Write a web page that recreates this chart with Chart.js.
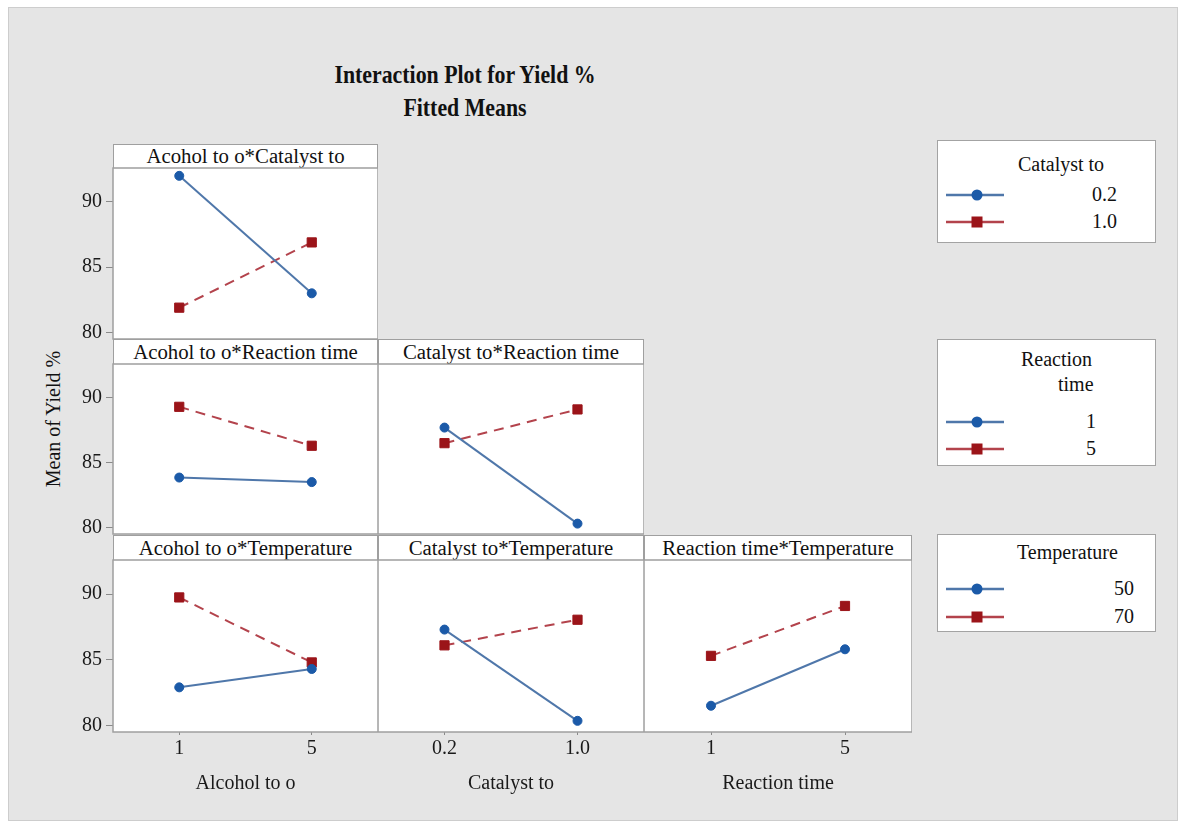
<!DOCTYPE html>
<html>
<head>
<meta charset="utf-8">
<title>Interaction Plot for Yield %</title>
<script src="https://cdn.jsdelivr.net/npm/chart.js@4.4.0/dist/chart.umd.min.js"></script>
<style>
  html, body { margin: 0; padding: 0; }
  body {
    width: 1183px; height: 826px; position: relative; overflow: hidden;
    background: #ffffff;
    font-family: 'Liberation Serif', 'Times New Roman', serif; color: #111;
  }
  #frame {
    position: absolute; left: 8px; top: 7px; width: 1170px; height: 814px;
    background: #e5e5e5; border: 1px solid #cdcdcd; box-sizing: border-box;
  }
  .title {
    position: absolute; left: 215px; width: 500px; text-align: center;
    font-weight: bold; font-size: 26px; line-height: 32px; white-space: nowrap;
    transform: scaleX(0.84);
  }
  .strip {
    position: absolute; background: #fff; border: 1.5px solid #9f9f9f;
    box-sizing: border-box; text-align: center; font-size: 20.8px; white-space: nowrap;
  }
  .ytitle {
    position: absolute; left: 53px; top: 419px; font-size: 20px; white-space: nowrap;
    transform: translate(-50%, -50%) rotate(-90deg);
  }
  .legend {
    position: absolute; left: 937px; width: 219px; background: #fff;
    border: 1.5px solid #a3a3a3; box-sizing: border-box;
  }
  .ltext { position: absolute; font-size: 20px; white-space: nowrap; line-height: 24px; }
  canvas { position: absolute; }
</style>
</head>
<body>
<div id="frame"></div>
<div class="title" style="top:59px">Interaction Plot for Yield %</div>
<div class="title" style="top:92px">Fitted Means</div>
<div class="ytitle">Mean of Yield %</div>
<div id="stage"></div>
<script>
// Factor levels
const alcoholLevels = ['1', '5'];
const catalystLevels = ['0.2', '1.0'];
const reactionLevels = ['1', '5'];
const temperatureLevels = ['50', '70'];

// Fitted means of Yield % (first factor on the x axis, second factor as the trace)
const alcCatalyst02 = [92.0, 83.0];
const alcCatalyst10 = [81.9, 86.9];
const alcTime1 = [83.85, 83.5];
const alcTime5 = [89.3, 86.3];
const catTime1 = [87.7, 80.3];
const catTime5 = [86.5, 89.1];
const alcTemp50 = [82.9, 84.3];
const alcTemp70 = [89.75, 84.8];
const catTemp50 = [87.3, 80.35];
const catTemp70 = [86.1, 88.05];
const timeTemp50 = [81.5, 85.8];
const timeTemp70 = [85.3, 89.1];

// Shared y axis
const yTicks = [80, 85, 90];
const yMin = 79.5;
const yMax = 92.6;

// Trace styles
const lowStyle = { line: '#4f77aa', marker: '#1b5aa8', shape: 'circle', radius: 4.5, dash: [] };
const highStyle = { line: '#b3434c', marker: '#9b1419', shape: 'rect', radius: 6.5, dash: [10, 7] };

// Panel grid geometry (pixels)
const cols = [[113, 378], [378, 644], [644, 912]];
const rows = [
  { head: 144, top: 168, bottom: 339 },
  { head: 339, top: 364, bottom: 534 },
  { head: 535, top: 560, bottom: 732 }
];
const xTitles = ['Alcohol to o', 'Catalyst to', 'Reaction time'];
const xLevelsByCol = [alcoholLevels, catalystLevels, reactionLevels];

const panels = [
  { row: 0, col: 0, title: 'Acohol to o*Catalyst to', low: alcCatalyst02, high: alcCatalyst10, names: catalystLevels },
  { row: 1, col: 0, title: 'Acohol to o*Reaction time', low: alcTime1, high: alcTime5, names: reactionLevels },
  { row: 1, col: 1, title: 'Catalyst to*Reaction time', low: catTime1, high: catTime5, names: reactionLevels },
  { row: 2, col: 0, title: 'Acohol to o*Temperature', low: alcTemp50, high: alcTemp70, names: temperatureLevels },
  { row: 2, col: 1, title: 'Catalyst to*Temperature', low: catTemp50, high: catTemp70, names: temperatureLevels },
  { row: 2, col: 2, title: 'Reaction time*Temperature', low: timeTemp50, high: timeTemp70, names: temperatureLevels }
];

Chart.defaults.font.family = "'Liberation Serif', 'Times New Roman', serif";
Chart.defaults.color = '#1a1a1a';

// White plot background and grey frame around every panel
const panelFrame = {
  id: 'panelFrame',
  beforeDatasetsDraw(chart) {
    const { ctx, chartArea: a } = chart;
    ctx.save();
    ctx.fillStyle = '#ffffff';
    ctx.fillRect(a.left, a.top, a.right - a.left, a.bottom - a.top);
    ctx.restore();
  },
  afterDraw(chart) {
    const { ctx, chartArea: a } = chart;
    ctx.save();
    ctx.strokeStyle = '#9f9f9f';
    ctx.lineWidth = 1.5;
    ctx.strokeRect(a.left, a.top, a.right - a.left, a.bottom - a.top);
    ctx.restore();
  }
};

const stage = document.getElementById('stage');
const PAD = 18;

function traceDataset(label, data, st) {
  return {
    label, data,
    borderColor: st.line, borderWidth: 2, borderDash: st.dash,
    pointStyle: st.shape, pointRadius: st.radius, pointHoverRadius: st.radius,
    pointBackgroundColor: st.marker, pointBorderColor: st.marker, pointBorderWidth: 1,
    tension: 0, fill: false, clip: false
  };
}

panels.forEach(p => {
  const [cl, cr] = cols[p.col];
  const r = rows[p.row];
  const hasY = p.col === 0;
  const hasX = p.row === 2;

  // header strip
  const strip = document.createElement('div');
  strip.className = 'strip';
  strip.style.left = cl + 'px';
  strip.style.top = r.head + 'px';
  strip.style.width = (cr - cl) + 'px';
  strip.style.height = (r.top - r.head + 1) + 'px';
  strip.style.lineHeight = (r.top - r.head - 2) + 'px';
  strip.textContent = p.title;
  stage.appendChild(strip);

  const left = hasY ? 20 : cl;
  const top = r.top - PAD;
  const padBottom = hasX ? 0 : PAD;
  const bottom = hasX ? 800 : r.bottom + padBottom;

  const canvas = document.createElement('canvas');
  canvas.width = cr - left;
  canvas.height = bottom - top;
  canvas.style.left = left + 'px';
  canvas.style.top = top + 'px';
  stage.appendChild(canvas);

  new Chart(canvas, {
    type: 'line',
    data: {
      labels: xLevelsByCol[p.col],
      datasets: [
        traceDataset(p.names[0], p.low, lowStyle),
        traceDataset(p.names[1], p.high, highStyle)
      ]
    },
    options: {
      responsive: false, animation: false, devicePixelRatio: 1,
      layout: { autoPadding: false, padding: { top: PAD, bottom: padBottom, left: 0, right: 0 } },
      plugins: { legend: { display: false }, tooltip: { enabled: false } },
      scales: {
        x: {
          type: 'category', offset: true, display: hasX,
          grid: { display: true, drawOnChartArea: false, drawTicks: true, tickLength: 3, color: '#8a8a8a' },
          border: { display: false },
          ticks: { font: { size: 20 }, color: '#1a1a1a', padding: 2, maxRotation: 0 },
          title: { display: true, text: xTitles[p.col], font: { size: 20 }, color: '#1a1a1a', padding: { top: 0, bottom: 4 } },
          afterFit(s) { if (hasX) s.height = bottom - r.bottom; }
        },
        y: {
          type: 'linear', min: yMin, max: yMax, display: hasY,
          afterBuildTicks(s) { s.ticks = yTicks.map(v => ({ value: v })); },
          grid: { display: true, drawOnChartArea: false, drawTicks: true, tickLength: 7, color: '#8a8a8a' },
          border: { display: false },
          ticks: { font: { size: 20 }, color: '#1a1a1a', padding: 4 },
          afterFit(s) { if (hasY) s.width = cl - left; }
        }
      }
    },
    plugins: [panelFrame]
  });
});

// Legends, one per trace factor
const legends = [
  { title: [['Catalyst to', 1018, 152]], levels: catalystLevels, top: 140, bottom: 243, itemY: [195, 222], labelRight: 1117 },
  { title: [['Reaction', 1021, 347], ['time', 1058, 372]], levels: reactionLevels, top: 339, bottom: 466, itemY: [422, 449], labelRight: 1096 },
  { title: [['Temperature', 1017, 540]], levels: temperatureLevels, top: 534, bottom: 632, itemY: [589, 617], labelRight: 1134 }
];

legends.forEach(lg => {
  const box = document.createElement('div');
  box.className = 'legend';
  box.style.top = lg.top + 'px';
  box.style.height = (lg.bottom - lg.top) + 'px';
  stage.appendChild(box);

  lg.title.forEach(([txt, x, y]) => {
    const t = document.createElement('div');
    t.className = 'ltext';
    t.style.left = x + 'px';
    t.style.top = y + 'px';
    t.textContent = txt;
    stage.appendChild(t);
  });

  [lowStyle, highStyle].forEach((st, i) => {
    const y = lg.itemY[i];
    const svgNS = 'http://www.w3.org/2000/svg';
    const svg = document.createElementNS(svgNS, 'svg');
    svg.setAttribute('width', '64');
    svg.setAttribute('height', '16');
    svg.style.position = 'absolute';
    svg.style.left = '944px';
    svg.style.top = (y - 8) + 'px';
    const ln = document.createElementNS(svgNS, 'line');
    ln.setAttribute('x1', '2'); ln.setAttribute('x2', '60');
    ln.setAttribute('y1', '8'); ln.setAttribute('y2', '8');
    ln.setAttribute('stroke', st.line); ln.setAttribute('stroke-width', '2.5');
    svg.appendChild(ln);
    let mk;
    if (st.shape === 'circle') {
      mk = document.createElementNS(svgNS, 'circle');
      mk.setAttribute('cx', '33'); mk.setAttribute('cy', '8'); mk.setAttribute('r', '5.5');
    } else {
      mk = document.createElementNS(svgNS, 'rect');
      mk.setAttribute('x', '27.5'); mk.setAttribute('y', '2.5');
      mk.setAttribute('width', '11'); mk.setAttribute('height', '11');
    }
    mk.setAttribute('fill', st.marker);
    svg.appendChild(mk);
    stage.appendChild(svg);

    const lab = document.createElement('div');
    lab.className = 'ltext';
    lab.style.right = (1183 - lg.labelRight) + 'px';
    lab.style.top = (y - 13) + 'px';
    lab.textContent = lg.levels[i];
    stage.appendChild(lab);
  });
});
</script>
</body>
</html>
